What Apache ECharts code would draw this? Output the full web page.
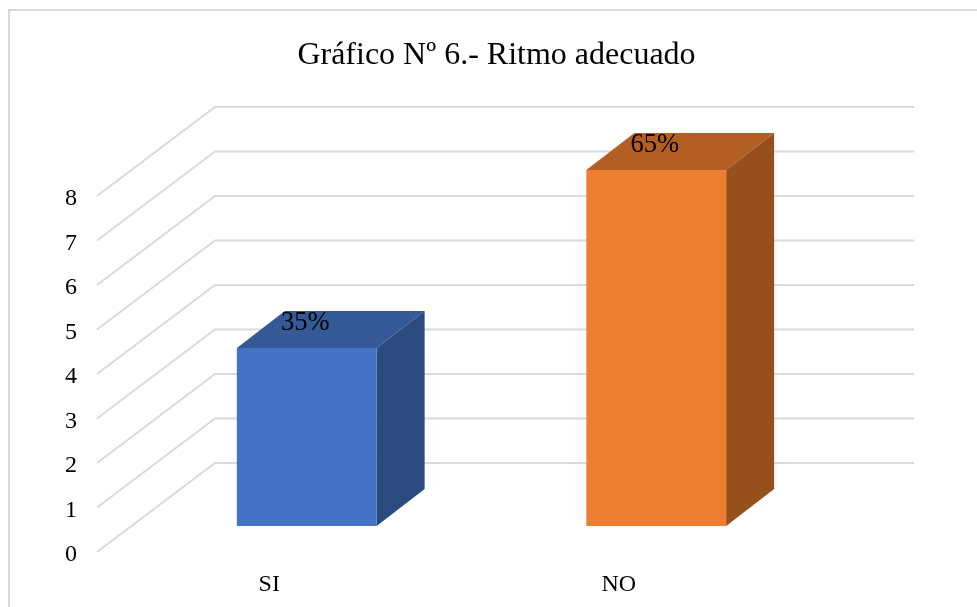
<!DOCTYPE html>
<html><head><meta charset="utf-8">
<style>html,body{margin:0;padding:0;background:#fff}#c{width:977px;height:607px}</style>
<script src="https://cdn.jsdelivr.net/npm/echarts@6/dist/echarts.min.js"></script>
</head><body><div id="c"></div>
<script>
const categories = ['SI', 'NO'];
const values = [4, 8];
const dataLabels = ['35%', '65%'];
const barColors = ['#4472C4', '#ED7D31'];
const topColors = ['#355896', '#B35E22'];
const sideColors = ['#2A4A80', '#974F1C'];
const ticks = [0, 1, 2, 3, 4, 5, 6, 7, 8];
const title = 'Gráfico Nº 6.- Ritmo adecuado';

const FONT = '"Liberation Serif","Times New Roman",serif';
// oblique projection of the 3D chart: offsets from the front plane
const WALL_DX = 118, WALL_DY = -89;      // front plane -> back wall
const BAR_DX = 35, BAR_DY = -26;         // front plane -> bar front face
const DEPTH_DX = 48, DEPTH_DY = -37;     // bar front face -> bar back face
const BAR_RATIO = 0.4;

const chart = echarts.init(document.getElementById('c'), null, {renderer: 'canvas'});
const gridStyle = {stroke: '#DADADA', lineWidth: 2, fill: null};

chart.setOption({
  animation: false,
  backgroundColor: '#fff',
  title: {
    text: title, left: 491.5, top: 35, textAlign: 'center',
    textStyle: {fontFamily: FONT, fontSize: 32, fontWeight: 'normal', color: '#000'}
  },
  graphic: [{
    type: 'rect', silent: true, z: -1,
    shape: {x: 9, y: 10, width: 1100, height: 800},
    style: {fill: '#fff', stroke: '#D9D9D9', lineWidth: 2}
  }],
  grid: {left: 97, top: 196, width: 699, height: 356},
  xAxis: {
    type: 'category', data: categories,
    axisLine: {show: false}, axisTick: {show: false}, splitLine: {show: false},
    axisLabel: {fontFamily: FONT, fontSize: 24, color: '#000', margin: 21, padding: [0, 5, 0, 0]}
  },
  yAxis: {
    type: 'value', min: 0, max: 8, interval: 1,
    axisLine: {show: false}, axisTick: {show: false}, splitLine: {show: false},
    axisLabel: {fontFamily: FONT, fontSize: 24, color: '#000', margin: 20, verticalAlign: 'top', lineHeight: 6}
  },
  series: [{
    type: 'custom', z: 1, silent: true,
    coordinateSystem: 'cartesian2d',
    data: ticks.map(t => [0, t]),
    renderItem(params, api) {
      const y = api.coord([0, api.value(1)])[1];
      const x0 = params.coordSys.x, w = params.coordSys.width;
      return {
        type: 'polyline',
        shape: {points: [[x0, y], [x0 + WALL_DX, y + WALL_DY], [x0 + WALL_DX + w, y + WALL_DY]]},
        style: gridStyle
      };
    }
  }, {
    type: 'custom', z: 2, silent: true,
    coordinateSystem: 'cartesian2d',
    data: values.map((v, i) => [i, v]),
    renderItem(params, api) {
      const i = params.dataIndex;
      const top = api.coord([i, api.value(1)]);
      const base = api.coord([i, 0]);
      const hw = api.size([1, 0])[0] * BAR_RATIO / 2;
      const l = top[0] - hw + BAR_DX, r = top[0] + hw + BAR_DX;
      const t = top[1] + BAR_DY, b = base[1] + BAR_DY;
      return {
        type: 'group',
        children: [{
          type: 'polygon',
          shape: {points: [[r, t], [r + DEPTH_DX, t + DEPTH_DY], [r + DEPTH_DX, b + DEPTH_DY], [r, b]]},
          style: {fill: sideColors[i]}
        }, {
          type: 'polygon',
          shape: {points: [[l, t], [l + DEPTH_DX, t + DEPTH_DY], [r + DEPTH_DX, t + DEPTH_DY], [r, t]]},
          style: {fill: topColors[i]}
        }, {
          type: 'rect',
          shape: {x: l, y: t, width: r - l, height: b - t},
          style: {fill: barColors[i]}
        }, {
          type: 'text', z2: 10,
          style: {
            x: (l + r) / 2 + DEPTH_DX / 2 - 25.5, y: t + DEPTH_DY / 2 - 6,
            text: dataLabels[i], align: 'center', verticalAlign: 'middle',
            fontFamily: FONT, fontSize: 26.5, fill: '#000'
          }
        }]
      };
    }
  }]
});
</script></body></html>
